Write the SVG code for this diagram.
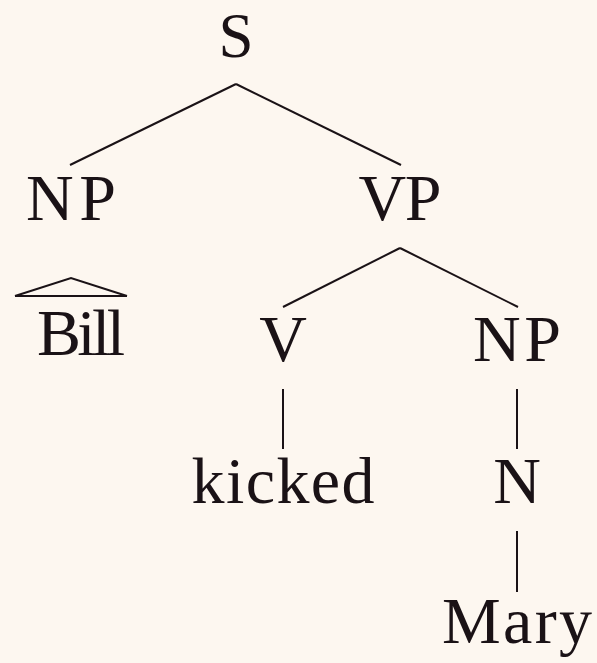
<svg xmlns="http://www.w3.org/2000/svg" width="597" height="663" viewBox="0 0 597 663">
<style>
.t{font-family:"Liberation Serif","DejaVu Serif",serif;font-size:66px;fill:#1a1216;text-anchor:middle}
.e{stroke:#1a1216;stroke-width:2;fill:none;stroke-linecap:butt}
</style>
<rect width="597" height="663" fill="#fdf7f0"/>
<g id="connectors">
<line class="e" x1="236" y1="84" x2="70" y2="165"/>
<line class="e" x1="236" y1="84" x2="401" y2="165"/>
<line class="e" x1="400" y1="248" x2="283" y2="307"/>
<line class="e" x1="400" y1="248" x2="518" y2="307"/>
<line class="e" x1="283" y1="389" x2="283" y2="449"/>
<line class="e" x1="517" y1="389" x2="517" y2="449"/>
<line class="e" x1="517" y1="531" x2="517" y2="592"/>
</g>
<g id="S"><text class="t" x="236" y="57" style="font-size:63px">S</text></g>
<g id="NP1"><text class="t" x="71" y="220" textLength="90">NP</text></g>
<g id="VP"><text class="t" x="400" y="220" textLength="83">VP</text></g>
<g id="Bill">
<polyline class="e" points="15,296 71,278 127,296"/>
<line class="e" x1="15" y1="296" x2="127" y2="296" stroke-width="2.6"/>
<text class="t" x="81" y="355" textLength="88">Bill</text>
</g>
<g id="V"><text class="t" x="283" y="361">V</text></g>
<g id="NP2"><text class="t" x="517" y="361" textLength="88">NP</text></g>
<g id="kicked"><text class="t" x="283" y="503" textLength="183">kicked</text></g>
<g id="N"><text class="t" x="517" y="503">N</text></g>
<g id="Mary"><text class="t" x="517" y="643" textLength="150">Mary</text></g>
</svg>
